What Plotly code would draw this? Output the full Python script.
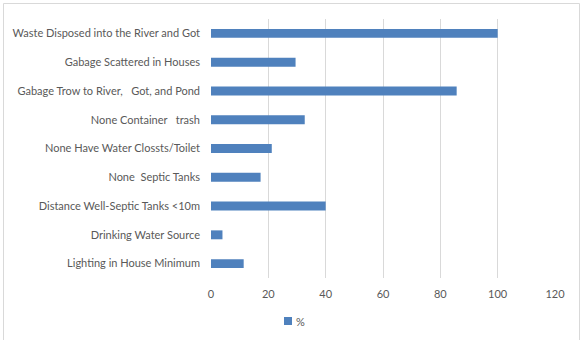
import plotly.graph_objects as go

categories = [
    "Waste Disposed into the River and Got",
    "Gabage Scattered in Houses",
    "Gabage Trow to River,   Got, and Pond",
    "None Container   trash",
    "None Have Water Clossts/Toilet",
    "None  Septic Tanks",
    "Distance Well-Septic Tanks <10m",
    "Drinking Water Source",
    "Lighting in House Minimum",
]
values = [100, 29.5, 85.7, 32.7, 21.2, 17.3, 40, 4, 11.4]
x_ticks = [0, 20, 40, 60, 80, 100, 120]
series_name = "%"

BAR_COLOR = "#4f81bd"
TEXT_COLOR = "#595959"

fig = go.Figure()
fig.add_trace(go.Bar(
    y=categories, x=values, orientation="h", name=series_name,
    marker=dict(color=BAR_COLOR, line=dict(width=0)),
    showlegend=False,
))

font_family = "Lato, 'Liberation Sans', sans-serif"
W, H = 584, 348
ml, mr, mt, mb = 211, 29, 19, 70
pw, ph = W - ml - mr, H - mt - mb


def px(x):
    return (x - ml) / pw


def py(y):
    return (H - mb - y) / ph


fig.update_layout(
    width=W, height=H,
    margin=dict(l=ml, r=mr, t=mt, b=mb),
    paper_bgcolor="white", plot_bgcolor="white",
    bargap=0.69,
    showlegend=False,
    font=dict(family=font_family, size=11, color=TEXT_COLOR),
    xaxis=dict(range=[0, 120], tickvals=x_ticks, showgrid=True,
               gridcolor="#d9d9d9", gridwidth=1, zeroline=False,
               showline=False, ticks="", ticklabelstandoff=8,
               tickfont=dict(size=11, color=TEXT_COLOR), fixedrange=True),
    yaxis=dict(categoryorder="array", categoryarray=categories,
               autorange="reversed", showgrid=False, zeroline=False,
               showline=False, ticks="", ticklabelstandoff=10,
               tickfont=dict(size=11, color=TEXT_COLOR), fixedrange=True),
)

# outer chart border (left, top, right)
fig.add_shape(type="path", xref="paper", yref="paper", layer="below",
              path=f"M {px(3.5)} {py(340)} L {px(3.5)} {py(3.5)} L {px(579.5)} {py(3.5)} L {px(579.5)} {py(340)}",
              line=dict(color="#d9d9d9", width=1))

# legend: key square + series name
fig.add_shape(type="rect", xref="paper", yref="paper",
              x0=px(284), x1=px(292), y0=py(325), y1=py(317),
              fillcolor=BAR_COLOR, line=dict(width=0))
fig.add_annotation(xref="paper", yref="paper", x=px(293.5), y=py(321),
                   xanchor="left", yanchor="middle", text=series_name,
                   showarrow=False, font=dict(size=11, color=TEXT_COLOR))

fig.write_html("out.html", config={"displayModeBar": False})
